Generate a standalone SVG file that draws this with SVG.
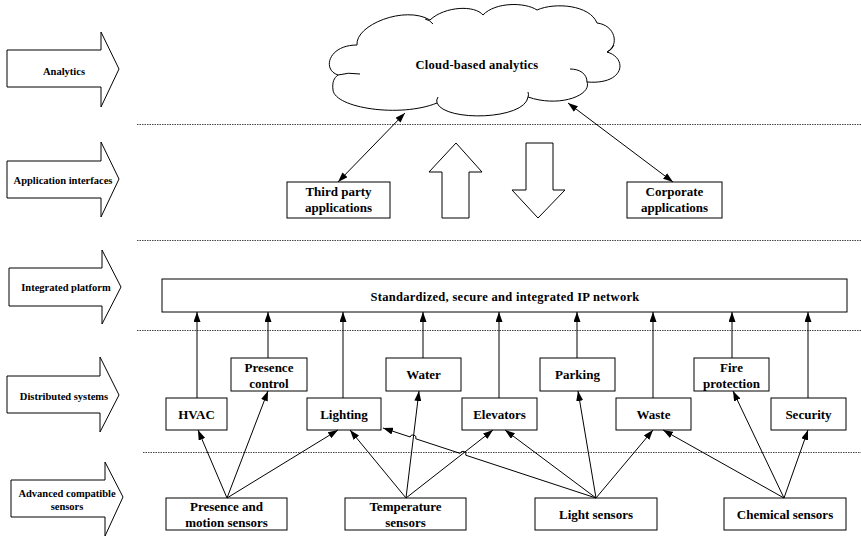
<svg xmlns="http://www.w3.org/2000/svg" width="861" height="536" viewBox="0 0 861 536">
<style>
.bg{fill:#fff}
.box{fill:#fff;stroke:#000;stroke-width:1}
.la{fill:#fff;stroke:#000;stroke-width:1}
.t{font-family:"Liberation Serif","Times New Roman",serif;font-weight:bold;font-size:13px;fill:#000;text-anchor:middle}
.ts{font-family:"Liberation Serif","Times New Roman",serif;font-weight:bold;font-size:10.5px;fill:#000;text-anchor:middle}
.sep{stroke:#444;stroke-width:1;stroke-dasharray:1.5 1;fill:none}
.c{stroke:#000;stroke-width:1;fill:none;marker-end:url(#ah)}
.cd{stroke:#000;stroke-width:1;fill:none;marker-end:url(#ah);marker-start:url(#ah)}
</style>
<defs>
<marker id="ah" viewBox="0 0 10 7" refX="10" refY="3.5" markerWidth="10" markerHeight="7" markerUnits="userSpaceOnUse" orient="auto-start-reverse"><path d="M0,0 L10,3.5 L0,7 z" fill="#000"/></marker>
</defs>
<rect class="bg" x="0" y="0" width="861" height="536"/>

<g id="separators">
<line class="sep" x1="137" y1="124.5" x2="861" y2="124.5"/>
<line class="sep" x1="137" y1="240.5" x2="861" y2="240.5"/>
<line class="sep" x1="137" y1="330.5" x2="861" y2="330.5"/>
<line class="sep" x1="143" y1="452.5" x2="861" y2="452.5"/>
</g>

<g id="layer-analytics">
<polygon class="la" points="7,50 101,50 101,32 119,69 101,107 101,87 7,87"/>
<text class="ts" x="64" y="74.5">Analytics</text>
</g>
<g id="layer-appif">
<polygon class="la" points="7,161 101,161 101,142 119,179 101,217 101,198 7,198"/>
<text class="ts" x="63" y="183.5">Application interfaces</text>
</g>
<g id="layer-platform">
<polygon class="la" points="9,268 102,268 102,250 121,287 102,324 102,306 9,306"/>
<text class="ts" x="66" y="290.5">Integrated platform</text>
</g>
<g id="layer-distributed">
<polygon class="la" points="7,376 100,376 100,357 119,395 100,432 100,413 7,413"/>
<text class="ts" x="64" y="399.5">Distributed systems</text>
</g>
<g id="layer-sensors">
<polygon class="la" points="11,480 105,480 105,462 123,497 105,536 105,517 11,517"/>
<text class="ts" x="67" y="496.5">Advanced compatible</text>
<text class="ts" x="67" y="509.5">sensors</text>
</g>

<g id="cloud">
<path class="box" d="M338,75 C322,70 328,45 357,45 C355,25 405,5 430,20 C445,6 475,5 483,15 C495,2 525,2 537,10 C555,2 590,5 597,23 C615,25 620,45 607,52 C628,58 625,85 587,82 C592,95 560,108 528,97 C525,120 445,122 437,103 C400,118 335,108 333,90 C332,82 334,78 338,75 Z"/>
<path d="M338,75 Q348,72 360,74 M425,19 Q430,20 433,24 M570,69 C580,69 587,74 587,82 M607,52 Q612,50 614,45 M528,97 Q529,95 528,92 M437,103 Q436,100 438,97" fill="none" stroke="#000" stroke-width="1"/>
<text class="t" x="477" y="68.5" style="font-size:12.5px;letter-spacing:0.25px">Cloud-based analytics</text>
</g>

<g id="third-party">
<rect class="box" x="287" y="182" width="103" height="36"/>
<text class="t" x="338.5" y="195.5">Third party</text>
<text class="t" x="338.5" y="212">applications</text>
</g>
<g id="corporate">
<rect class="box" x="627" y="182" width="95" height="36"/>
<text class="t" x="674.5" y="195.5">Corporate</text>
<text class="t" x="674.5" y="212">applications</text>
</g>

<g id="up-arrow">
<polygon class="la" points="456,143 482,172 469,172 469,218 442,218 442,172 429,172"/>
</g>
<g id="down-arrow">
<polygon class="la" points="526,143 553,143 553,190 565,190 538,218 512,190 526,190"/>
</g>

<g id="network">
<rect class="box" x="162" y="279" width="685" height="33"/>
<text class="t" x="505" y="300.5" style="font-size:12.5px;letter-spacing:0.3px">Standardized, secure and integrated IP network</text>
</g>

<g id="hvac"><rect class="box" x="166" y="398" width="61" height="32"/><text class="t" x="196.5" y="418.5">HVAC</text></g>
<g id="presence-control"><rect class="box" x="231" y="358" width="76" height="33"/><text class="t" x="269" y="371.5">Presence</text><text class="t" x="269" y="387.5">control</text></g>
<g id="lighting"><rect class="box" x="307" y="398" width="74" height="32"/><text class="t" x="344" y="418.5">Lighting</text></g>
<g id="water"><rect class="box" x="386" y="358" width="75" height="33"/><text class="t" x="423.5" y="379">Water</text></g>
<g id="elevators"><rect class="box" x="462" y="398" width="75" height="32"/><text class="t" x="499.5" y="418.5">Elevators</text></g>
<g id="parking"><rect class="box" x="540" y="358" width="75" height="33"/><text class="t" x="577.5" y="379">Parking</text></g>
<g id="waste"><rect class="box" x="616" y="398" width="75" height="32"/><text class="t" x="653.5" y="418.5">Waste</text></g>
<g id="fire-protection"><rect class="box" x="694" y="358" width="75" height="33"/><text class="t" x="731.5" y="371.5">Fire</text><text class="t" x="731.5" y="387.5">protection</text></g>
<g id="security"><rect class="box" x="771" y="398" width="75" height="32"/><text class="t" x="808.5" y="418.5">Security</text></g>

<g id="presence-sensors"><rect class="box" x="166" y="498" width="121" height="32"/><text class="t" x="226.5" y="511">Presence and</text><text class="t" x="226.5" y="527">motion sensors</text></g>
<g id="temperature-sensors"><rect class="box" x="345" y="498" width="121" height="32"/><text class="t" x="405.5" y="511">Temperature</text><text class="t" x="405.5" y="527">sensors</text></g>
<g id="light-sensors"><rect class="box" x="535" y="498" width="122" height="32"/><text class="t" x="596" y="519">Light sensors</text></g>
<g id="chemical-sensors"><rect class="box" x="724" y="498" width="122" height="32"/><text class="t" x="785" y="519">Chemical sensors</text></g>

<g id="connectors">
<line class="cd" x1="405" y1="113" x2="338" y2="182"/>
<line class="cd" x1="568" y1="103" x2="673" y2="182"/>

<line class="c" x1="197" y1="398" x2="197" y2="312"/>
<line class="c" x1="268" y1="358" x2="268" y2="312"/>
<line class="c" x1="343" y1="398" x2="343" y2="312"/>
<line class="c" x1="423" y1="358" x2="423" y2="312"/>
<line class="c" x1="499" y1="398" x2="499" y2="312"/>
<line class="c" x1="577" y1="358" x2="577" y2="312"/>
<line class="c" x1="653" y1="398" x2="653" y2="312"/>
<line class="c" x1="732" y1="358" x2="732" y2="312"/>
<line class="c" x1="808" y1="398" x2="808" y2="312"/>

<line class="c" x1="227" y1="498" x2="198" y2="430"/>
<line class="c" x1="227" y1="498" x2="268" y2="391"/>
<line class="c" x1="227" y1="498" x2="338" y2="430"/>

<line class="c" x1="406" y1="498" x2="350" y2="430"/>
<line class="c" x1="406" y1="498" x2="419" y2="391"/>
<line class="c" x1="406" y1="498" x2="493" y2="430"/>

<line class="c" x1="596" y1="498" x2="505" y2="430"/>
<line class="c" x1="596" y1="498" x2="578" y2="391"/>
<line class="c" x1="596" y1="498" x2="653" y2="430"/>
<path class="c" d="M596,498 L465.85,455.24 A3,3 0 0 0 460.15,453.36 L415.85,438.84 A3,3 0 0 0 410.15,436.96 L383,428"/>

<line class="c" x1="784" y1="498" x2="663" y2="430"/>
<line class="c" x1="784" y1="498" x2="733" y2="391"/>
<line class="c" x1="784" y1="498" x2="808" y2="430"/>
</g>
</svg>
